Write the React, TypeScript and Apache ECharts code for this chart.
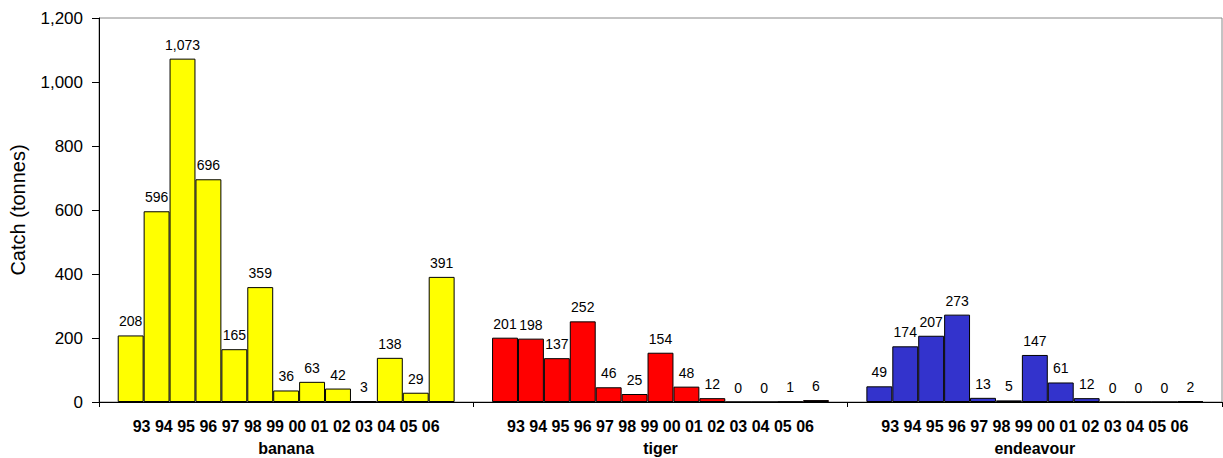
import React, { useEffect, useRef } from "react";
import * as echarts from "echarts";

const groups = ["banana", "tiger", "endeavour"];
const yearLabels = ["93", "94", "95", "96", "97", "98", "99", "00", "01", "02", "03", "04", "05", "06"];
const banana = [208, 596, 1073, 696, 165, 359, 36, 63, 42, 3, 138, 29, 391];
const tiger = [201, 198, 137, 252, 46, 25, 154, 48, 12, 0, 0, 1, 6];
const endeavour = [49, 174, 207, 273, 13, 5, 147, 61, 12, 0, 0, 0, 2];
const groupColors = ["#FFFF00", "#FF0000", "#3333CC"];
const yTicks = { min: 0, max: 1200, interval: 200 };

const FONT = "'Liberation Sans', Arial, sans-serif";

export default function App() {
  const ref = useRef<HTMLDivElement>(null);
  useEffect(() => {
    if (!ref.current) return;
    const chart = echarts.init(ref.current, null, { renderer: "svg" });
    const groupData = [banana, tiger, endeavour];
    const series = banana.map((_, i) => ({
      type: "bar",
      name: "s" + i,
      barGap: "0%",
      barCategoryGap: "10%",
      data: groupData.map((arr, g) => ({
        value: arr[i],
        itemStyle: { color: groupColors[g], borderColor: "#000", borderWidth: 1 },
      })),
      label: {
        show: true,
        position: "top",
        distance: 7,
        color: "#000",
        fontFamily: FONT,
        fontSize: 14,
        formatter: (p: any) => Number(p.value).toLocaleString("en-US"),
      },
    }));
    chart.setOption({
      animation: false,
      textStyle: { fontFamily: FONT },
      grid: {
        left: 98,
        right: 1,
        top: 18,
        bottom: 56,
        show: true,
        borderColor: "#888",
        borderWidth: 1,
      },
      xAxis: {
        type: "category",
        data: groups,
        axisLine: { lineStyle: { color: "#000", width: 1 } },
        axisTick: { show: true, length: 5, lineStyle: { color: "#000" } },
        axisLabel: {
          margin: 13,
          interval: 0,
          formatter: (v: string) => `{y|${yearLabels.join(" ")}}\n{g|${v}}`,
          rich: {
            y: { fontSize: 16, fontWeight: "bold", color: "#000", lineHeight: 22, fontFamily: FONT },
            g: { fontSize: 16, fontWeight: "bold", color: "#000", lineHeight: 22, fontFamily: FONT },
          },
        },
      },
      yAxis: {
        type: "value",
        min: yTicks.min,
        max: yTicks.max,
        interval: yTicks.interval,
        name: "Catch (tonnes)",
        nameLocation: "middle",
        nameGap: 71,
        nameTextStyle: { fontSize: 20, color: "#000", fontFamily: FONT },
        axisLine: { show: true, lineStyle: { color: "#000", width: 1 } },
        axisTick: { show: true, length: 7, lineStyle: { color: "#000" } },
        splitLine: { show: false },
        axisLabel: {
          margin: 16,
          fontSize: 17,
          color: "#000",
          fontFamily: FONT,
          formatter: (v: number) => v.toLocaleString("en-US"),
        },
      },
      series,
    });
    return () => chart.dispose();
  }, []);
  return (
    <div
      ref={ref}
      style={{ position: "absolute", left: 0, top: 0, width: 1223, height: 458, background: "#fff" }}
    />
  );
}
